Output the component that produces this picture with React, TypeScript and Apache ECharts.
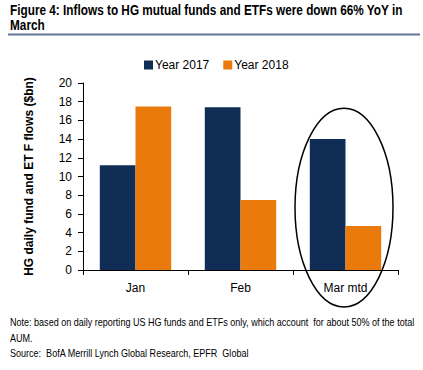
import React, { useEffect, useRef } from "react";
import * as echarts from "echarts";

const categories = ["Jan", "Feb", "Mar mtd"];
const year2017 = [11.2, 17.4, 14.0];
const year2018 = [17.5, 7.5, 4.7];
const seriesNames = ["Year 2017", "Year 2018"];
const titleLines = ["Figure 4: Inflows to HG mutual funds and ETFs were down 66% YoY in", "March"];
const noteLines = [
  "Note: based on daily reporting US HG funds and ETFs only, which account  for about 50% of the total",
  "AUM.",
  "Source:  BofA Merrill Lynch Global Research, EPFR  Global",
];
const yAxisName = "HG daily fund and ET F flows ($bn)";

function measure(text: string, font: string): number {
  const c = document.createElement("canvas").getContext("2d")!;
  c.font = font;
  return c.measureText(text).width;
}

export default function App() {
  const ref = useRef<HTMLDivElement>(null);
  useEffect(() => {
    const chart = echarts.init(ref.current!, null, { renderer: "svg" });
    const option: any = {
      animation: false,
      backgroundColor: "#fff",
      grid: { left: 83, right: 25, top: 83, bottom: 100 },
      legend: {
        data: seriesNames,
        left: 139,
        top: 54,
        itemWidth: 9,
        itemHeight: 9,
        itemGap: 14,
        icon: "rect",
        textStyle: { fontFamily: "Liberation Sans, Arial", fontSize: 12, color: "#000", padding: [0, 0, 0, -3] },
      },
      xAxis: {
        type: "category",
        data: categories,
        axisLine: { lineStyle: { color: "#000", width: 1 } },
        axisTick: { show: true, length: 5, lineStyle: { color: "#000" } },
        axisLabel: { fontFamily: "Liberation Sans, Arial", fontSize: 12, color: "#000", margin: 12 },
      },
      yAxis: {
        type: "value",
        min: 0,
        max: 20,
        interval: 2,
        name: yAxisName,
        nameLocation: "middle",
        nameGap: 48,
        nameTextStyle: { fontFamily: "Liberation Sans, Arial", fontSize: 12, fontWeight: "bold", color: "#000" },
        axisLine: { show: true, lineStyle: { color: "#000", width: 1 } },
        axisTick: { show: true, length: 5, lineStyle: { color: "#000" } },
        axisLabel: { fontFamily: "Liberation Sans, Arial", fontSize: 12, color: "#000", margin: 11 },
        splitLine: { show: false },
      },
      series: [
        { name: seriesNames[0], type: "bar", data: year2017, barGap: "0%", barCategoryGap: "32%", itemStyle: { color: "#0f2d55" } },
        { name: seriesNames[1], type: "bar", data: year2018, itemStyle: { color: "#ea7a0c" } },
      ],
    };
    chart.setOption(option);
    const cx = chart.convertToPixel({ xAxisIndex: 0 }, "Mar mtd") as number;
    const yTop = chart.convertToPixel({ yAxisIndex: 0 }, 17.3) as number;
    const yBot = chart.convertToPixel({ yAxisIndex: 0 }, 0) as number;

    const titleFont = "bold 14px 'Liberation Sans', Arial, sans-serif";
    const titleScale = 393 / measure(titleLines[0], titleFont);
    const noteFont = "10.5px 'Liberation Sans', Arial, sans-serif";
    const noteScale = 405 / measure(noteLines[0], noteFont);

    chart.setOption({
      graphic: [
        {
          type: "text",
          x: 10,
          y: 3,
          scaleX: titleScale,
          style: { text: titleLines.join("\n"), font: titleFont, fill: "#000", lineHeight: 14.5 },
        },
        { type: "rect", shape: { x: 8, y: 33.5, width: 412, height: 2 }, style: { fill: "#66759a" } },
        {
          type: "ellipse",
          shape: { cx: cx - 1.5, cy: (yTop + yBot + 37) / 2, rx: 49, ry: (yBot + 37 - yTop) / 2 },
          style: { fill: "none", stroke: "#000", lineWidth: 1.5 },
        },
        {
          type: "text",
          x: 10,
          y: 315,
          scaleX: noteScale,
          style: { text: noteLines.join("\n"), font: noteFont, fill: "#000", lineHeight: 15.5 },
        },
      ],
    });
    return () => chart.dispose();
  }, []);
  return <div ref={ref} style={{ width: 423, height: 370, position: "absolute", left: 0, top: 0 }} />;
}
